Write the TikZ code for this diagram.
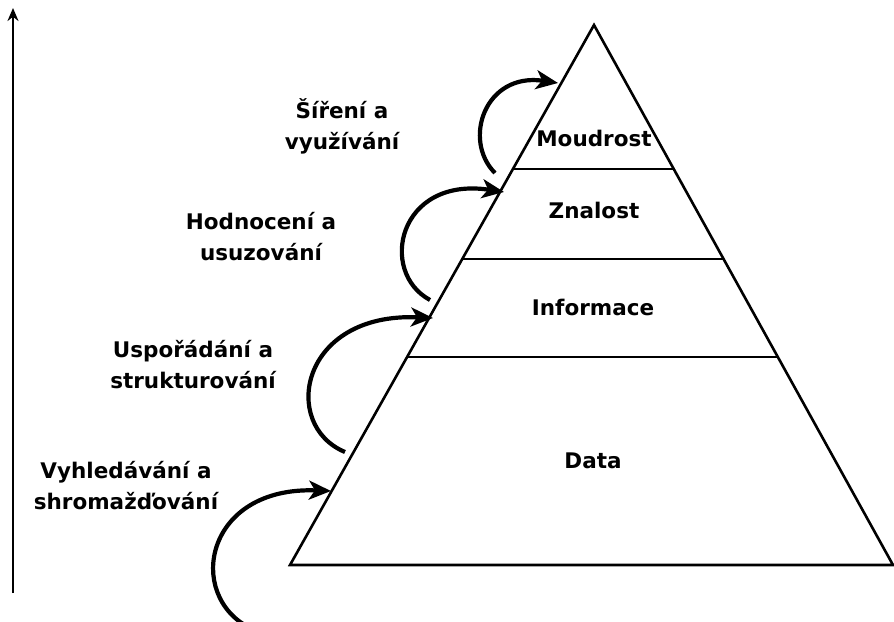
\documentclass[tikz,border=0pt]{standalone}
\usepackage{fontspec}
\setmainfont{DejaVu Sans}
\usetikzlibrary{calc,arrows.meta}
\begin{document}
\begin{tikzpicture}[x=1pt,y=-1pt,
  edge/.style={line width=2.6pt,line join=miter},
  sep/.style={line width=2.6pt},
  flow/.style={line width=4.2pt,-{Stealth[length=22pt,width=19pt,inset=6pt]}},
  axis/.style={line width=2.8pt,-{Stealth[length=13pt,width=11pt]}},
  lab/.style={font=\bfseries\fontsize{21.5}{31}\selectfont,align=center,inner sep=0pt},
  lvl/.style={font=\bfseries\fontsize{21.5}{25}\selectfont,inner sep=0pt}]
\useasboundingbox (0,0) rectangle (894,621);
\clip (0,0) rectangle (894,621);
% pyramid
\coordinate (apex) at (594,25);
\coordinate (bl) at (290,565);
\coordinate (br) at (893,565);
\draw[edge] (apex) -- (bl) -- (br) -- cycle;
\coordinate (l1) at ($(apex)!0.2667!(bl)$);
\coordinate (r1) at ($(apex)!0.2667!(br)$);
\coordinate (l2) at ($(apex)!0.4333!(bl)$);
\coordinate (r2) at ($(apex)!0.4333!(br)$);
\coordinate (l3) at ($(apex)!0.6148!(bl)$);
\coordinate (r3) at ($(apex)!0.6148!(br)$);
\draw[sep] (l1) -- (r1);
\draw[sep] (l2) -- (r2);
\draw[sep] (l3) -- (r3);
\node[lvl] (moudrost) at (594,138) {Moudrost};
\node[lvl] (znalost) at (594,210) {Znalost};
\node[lvl] (informace) at (593,307) {Informace};
\node[lvl] (data) at (593,461) {Data};
% axis
\coordinate (ax0) at (13,593);
\coordinate (ax1) at (13,8);
\draw[axis] (ax0) -- (ax1);
% labels
\node[lab] (t1) at (342,126) {Šíření a\\využívání};
\node[lab] (t2) at (261,237) {Hodnocení a\\usuzování};
\node[lab] (t3) at (193,365) {Uspořádání a\\strukturování};
\node[lab] (t4) at (126,486) {Vyhledávání a\\shromažďování};
% curved arrows
\coordinate (s1) at (495,173); \coordinate (e1) at (558,83);
\coordinate (s2) at (430,300); \coordinate (e2) at (504,192);
\coordinate (s3) at (345,452); \coordinate (e3) at (433,318);
\coordinate (s4) at (250,628); \coordinate (e4) at (331,491);
\draw[flow] (s1) .. controls (462,140) and (485,72) .. (e1);
\draw[flow] (s2) .. controls (378,272) and (398,176) .. (e2);
\draw[flow] (s3) .. controls (280,425) and (300,312) .. (e3);
\draw[flow] (s4) .. controls (185,595) and (205,486) .. (e4);
\end{tikzpicture}
\end{document}
